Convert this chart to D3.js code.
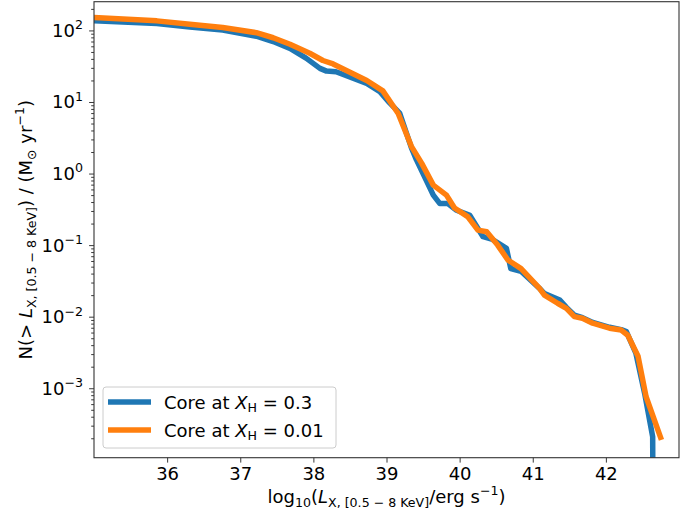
<!DOCTYPE html>
<html>
<head>
<meta charset="utf-8">
<script src="https://cdn.jsdelivr.net/npm/d3@7"></script>
<style>
  body { margin: 0; background: #fff; }
  text { font-family: "DejaVu Sans", sans-serif; fill: #000; }
</style>
</head>
<body>
<div id="chart"></div>
<script>
// luminosity function, core at X_H = 0.3
var coreX03 = [35.0, 35.86, 36.31, 36.76, 37.22, 37.45, 37.68, 37.90, 38.09, 38.18, 38.31, 38.73, 38.91, 39.04, 39.18,
    39.34, 39.41, 39.64, 39.73, 39.84, 39.95, 40.14, 40.32, 40.45, 40.64, 40.70, 40.84, 41.09, 41.16,
    41.37, 41.46, 41.57, 41.68, 41.82, 42.05, 42.21, 42.28, 42.41, 42.53, 42.64, 42.645];
var coreN03 = [136, 125, 112, 101, 83, 70, 56, 41, 29.5, 27, 26.5, 18.2, 13.9, 9.8, 7.0,
    2.3, 1.55, 0.50, 0.38, 0.38, 0.31, 0.26, 0.131, 0.120, 0.090, 0.047, 0.043, 0.025, 0.021,
    0.0171, 0.0135, 0.0105, 0.0097, 0.0083, 0.0071, 0.0066, 0.0062, 0.0031, 0.00085, 0.00021, 0.00001];

// core at X_H = 0.01
var coreX001 = [35.0, 35.86, 36.31, 36.76, 37.22, 37.45, 37.68, 37.95, 38.13, 38.27, 38.73, 38.95, 39.16, 39.34, 39.48,
    39.64, 39.82, 39.93, 40.11, 40.25, 40.37, 40.52, 40.66, 40.84, 41.09, 41.16, 41.34, 41.46, 41.57,
    41.68, 41.82, 42.05, 42.21, 42.30, 42.44, 42.55, 42.76];
var coreN001 = [152, 136, 122, 110, 93, 79, 64, 48, 38, 34, 20, 14.3, 6.9, 2.4, 1.4,
    0.69, 0.50, 0.33, 0.25, 0.162, 0.154, 0.100, 0.062, 0.047, 0.025, 0.020, 0.0154, 0.0131, 0.0100,
    0.0095, 0.0081, 0.0069, 0.0065, 0.0055, 0.0028, 0.00076, 0.00019];

var xTicks = [36, 37, 38, 39, 40, 41, 42];
var yTicks = [2, 1, 0, -1, -2, -3];
var seriesNames = ["0.3", "0.01"];
var colors = ["#1f77b4", "#ff7f0e"];

var W = 692, H = 514;
var margin = {top: 1.7, right: 13, bottom: 56.3, left: 94};
var width = W - margin.left - margin.right;
var height = H - margin.top - margin.bottom;
var fs = 18;

var svg = d3.select("#chart").append("svg")
    .attr("width", W)
    .attr("height", H);

var g = svg.append("g")
    .attr("transform", "translate(" + margin.left + "," + margin.top + ")");

var x = d3.scaleLinear().domain([35.0, 43.0]).range([0, width]);
var y = d3.scaleLog().domain([1.07e-4, 252]).range([height, 0]);

g.append("clipPath").attr("id", "clip")
    .append("rect").attr("width", width).attr("height", height);

// draw text with sub/superscripts: parts = [[text, kind]], kind: "", "it", "sub", "sup"
function rich(sel, parts, size) {
    var cur = 0;
    parts.forEach(function (p) {
        var kind = p[1] || "";
        var target = 0, s = size;
        if (kind === "sub") { target = 0.22 * size; s = 0.7 * size; }
        if (kind === "sup") { target = -0.42 * size; s = 0.7 * size; }
        var t = sel.append("tspan")
            .attr("dy", target - cur)
            .attr("font-size", s)
            .text(p[0]);
        if (kind === "it") t.attr("font-style", "italic");
        cur = target;
    });
}

var line = d3.line()
    .x(function (d) { return x(d[0]); })
    .y(function (d) { return y(d[1]); });

var series = [d3.zip(coreX03, coreN03), d3.zip(coreX001, coreN001)];

g.append("g").attr("clip-path", "url(#clip)")
    .selectAll("path")
    .data(series)
    .enter().append("path")
    .attr("d", line)
    .attr("fill", "none")
    .attr("stroke", function (d, i) { return colors[i]; })
    .attr("stroke-width", 5.5)
    .attr("stroke-linejoin", "round");

// x axis
var xAxis = g.append("g")
    .attr("transform", "translate(0," + height + ")")
    .call(d3.axisBottom(x).tickValues(xTicks).tickSize(4.9).tickPadding(4.4).tickFormat(d3.format("d")));
xAxis.selectAll("text").attr("font-size", fs).attr("font-family", "DejaVu Sans");

// y axis: major ticks with 10^n labels, minor ticks in between
var minor = [];
for (var e = -4; e <= 2; e++) {
    for (var m = 2; m <= 9; m++) {
        var v = m * Math.pow(10, e);
        if (v >= y.domain()[0] && v <= y.domain()[1]) minor.push(v);
    }
}
g.append("g")
    .call(d3.axisLeft(y).tickValues(yTicks.map(function (k) { return Math.pow(10, k); }))
        .tickSize(4.9).tickFormat(""));
g.append("g")
    .call(d3.axisLeft(y).tickValues(minor).tickSize(2.8).tickFormat(""));

yTicks.forEach(function (k) {
    var t = g.append("text")
        .attr("x", -11)
        .attr("y", y(Math.pow(10, k)) + 6.5)
        .attr("text-anchor", "end")
        .attr("font-size", fs);
    rich(t, [["10", ""], [k < 0 ? "\u2212" + (-k) : String(k), "sup"]], fs);
});

g.selectAll(".domain").remove();
g.selectAll(".tick line").attr("stroke", "#222").attr("stroke-width", 0.9);

// frame
g.append("rect")
    .attr("width", width)
    .attr("height", height)
    .attr("fill", "none")
    .attr("stroke", "#333")
    .attr("stroke-width", 1.1);

// axis labels
var xl = svg.append("text")
    .attr("x", margin.left + width / 2)
    .attr("y", 503)
    .attr("text-anchor", "middle")
    .attr("font-size", fs);
rich(xl, [["log", ""], ["10", "sub"], ["(", ""], ["L", "it"], ["X, [0.5 \u2212 8 KeV]", "sub"],
    ["/erg s", ""], ["\u22121", "sup"], [")", ""]], fs);

var yl = svg.append("text")
    .attr("transform", "translate(32," + (margin.top + height / 2) + ") rotate(-90)")
    .attr("text-anchor", "middle")
    .attr("font-size", fs);
rich(yl, [["N(> ", ""], ["L", "it"], ["X, [0.5 \u2212 8 KeV]", "sub"], [") / (M", ""], ["\u2299", "sub"],
    [" yr", ""], ["\u22121", "sup"], [")", ""]], fs);

// legend
var lg = svg.append("g").attr("transform", "translate(103,387)");
lg.append("rect")
    .attr("width", 233)
    .attr("height", 61)
    .attr("rx", 3)
    .attr("fill", "#fff")
    .attr("fill-opacity", 0.8)
    .attr("stroke", "#ccc")
    .attr("stroke-width", 1);
seriesNames.forEach(function (name, i) {
    var yy = 15 + i * 28;
    lg.append("line")
        .attr("x1", 5).attr("x2", 48)
        .attr("y1", yy).attr("y2", yy)
        .attr("stroke", colors[i])
        .attr("stroke-width", 5.5);
    var t = lg.append("text")
        .attr("x", 61)
        .attr("y", yy + 6.5)
        .attr("font-size", fs);
    rich(t, [["Core at ", ""], ["X", "it"], ["H", "sub"], [" = " + name, ""]], fs);
});
</script>
</body>
</html>
